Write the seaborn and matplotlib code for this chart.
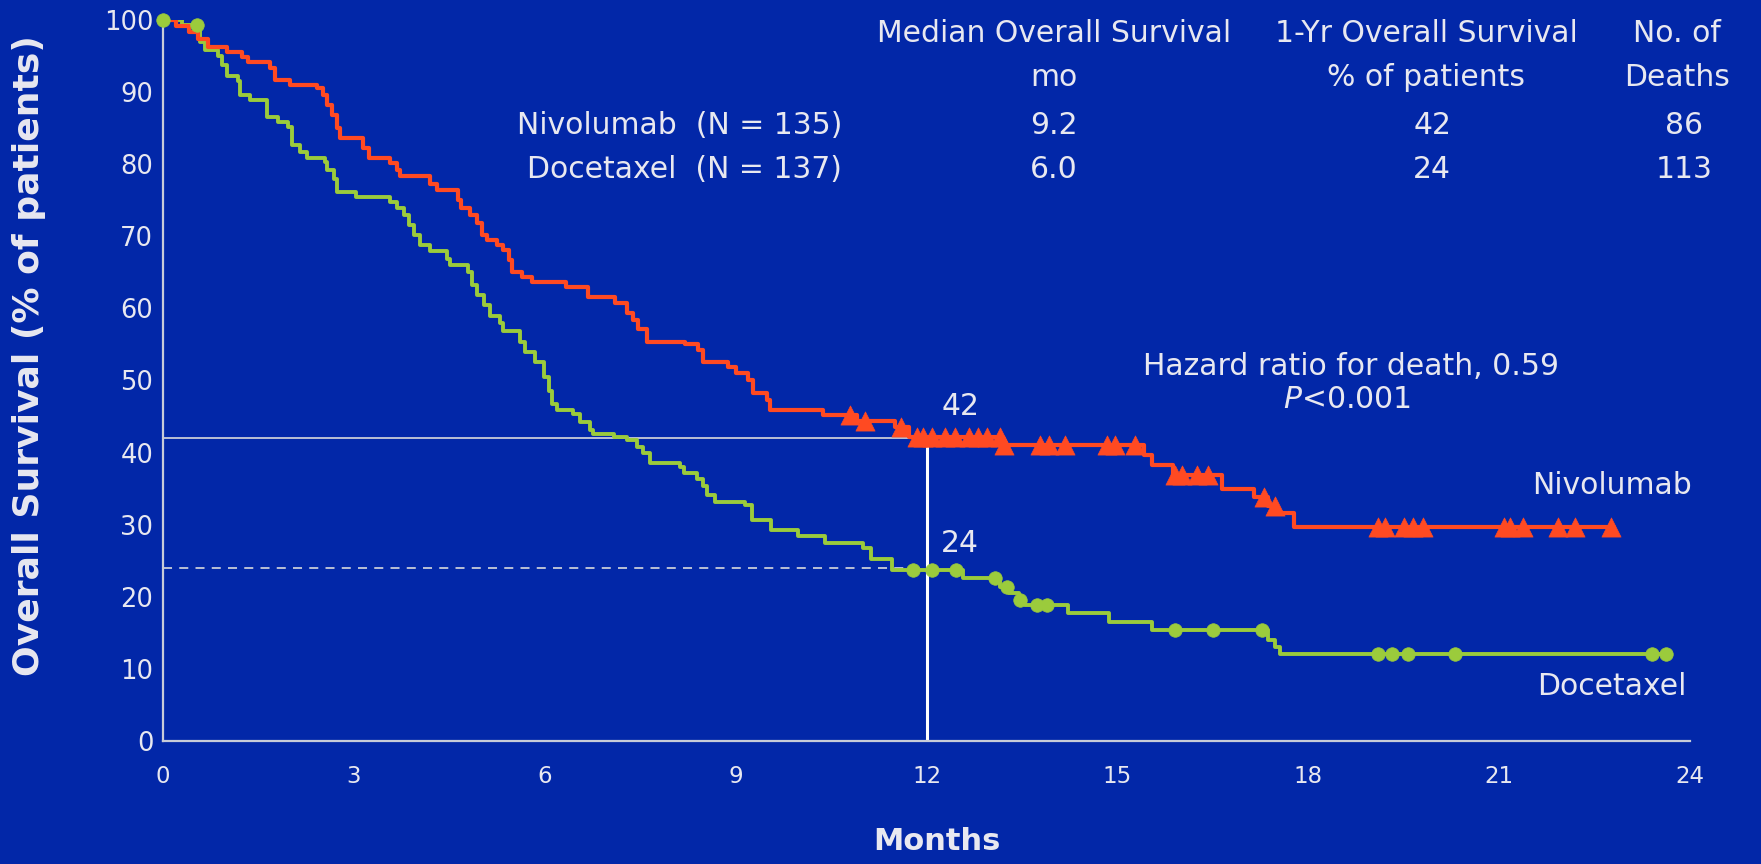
import numpy as np
import pandas as pd
import matplotlib
matplotlib.use("Agg")
import matplotlib.pyplot as plt
import seaborn as sns

# Kaplan-Meier step data: time (months) and survival (%) after each drop
nivo_t = [0.0, 0.2, 0.4, 0.55, 0.7, 1.0, 1.24, 1.34, 1.68, 1.76, 2.0, 2.42, 2.52, 2.57, 2.65,
          2.73, 2.78, 3.15, 3.23, 3.57, 3.67, 3.73, 4.2, 4.3, 4.64, 4.69, 4.83, 4.93, 5.01,
          5.09, 5.25, 5.35, 5.43, 5.48, 5.64, 5.8, 6.34, 6.68, 7.1, 7.29, 7.38, 7.47, 7.6,
          8.2, 8.41, 8.49, 8.88, 9.01, 9.2, 9.28, 9.49, 9.54, 10.38, 10.9, 11.5, 11.72,
          13.18, 15.41, 15.54, 15.88, 16.64, 17.14, 17.37, 17.5, 17.77, 22.8]
nivo_s = [100.0, 99.2, 98.3, 97.4, 96.3, 95.5, 94.9, 94.2, 93.3, 91.7, 91.0, 90.5, 89.6, 88.2,
          86.8, 85.0, 83.6, 82.3, 80.8, 80.1, 79.2, 78.3, 77.3, 76.4, 75.0, 73.9, 72.9, 71.8,
          70.2, 69.5, 68.8, 68.1, 66.7, 65.1, 64.4, 63.6, 63.0, 61.6, 60.7, 59.3, 58.4, 57.2,
          55.4, 55.0, 54.2, 52.6, 51.9, 51.0, 50.1, 48.3, 47.3, 45.9, 45.2, 44.4, 43.6, 42.2,
          41.0, 39.7, 38.3, 36.9, 35.0, 33.8, 32.6, 31.6, 29.7, 29.7]
nivo_cens = [10.8, 11.03, 11.6, 11.85, 11.95, 12.08, 12.29, 12.45, 12.66, 12.81, 12.95, 13.15,
             13.22, 13.78, 13.93, 14.18, 14.83, 14.96, 15.28, 15.9, 16.01, 16.25, 16.43, 17.3,
             17.48, 19.1, 19.2, 19.5, 19.65, 19.81, 21.07, 21.17, 21.38, 21.93, 22.19, 22.76]

doce_t = [0.0, 0.3, 0.58, 0.66, 0.87, 0.92, 1.0, 1.18, 1.21, 1.37, 1.63, 1.81, 1.97, 2.02, 2.15,
          2.26, 2.55, 2.57, 2.68, 2.73, 3.04, 3.57, 3.67, 3.78, 3.86, 3.94, 4.04, 4.2, 4.46,
          4.51, 4.8, 4.85, 4.93, 5.04, 5.14, 5.3, 5.35, 5.61, 5.69, 5.85, 5.98, 6.06, 6.11,
          6.19, 6.45, 6.55, 6.71, 6.76, 7.08, 7.29, 7.45, 7.55, 7.66, 8.13, 8.18, 8.39, 8.49,
          8.55, 8.68, 9.15, 9.25, 9.56, 9.98, 10.4, 11.0, 11.13, 11.45, 12.58, 13.16, 13.3,
          13.45, 13.55, 14.23, 14.86, 15.54, 17.37, 17.48, 17.56, 23.7]
doce_s = [100.0, 99.3, 97.0, 95.8, 95.0, 93.8, 92.2, 91.5, 89.6, 88.9, 86.6, 85.9, 85.2, 82.6,
          81.7, 80.8, 80.3, 79.2, 78.0, 76.2, 75.5, 74.8, 73.9, 72.9, 71.6, 70.2, 68.8, 67.9,
          66.9, 66.0, 65.1, 63.3, 61.9, 60.5, 58.9, 58.0, 56.9, 55.4, 54.0, 52.6, 50.5, 48.6,
          46.8, 45.9, 45.4, 44.2, 43.1, 42.6, 42.2, 41.7, 40.8, 39.9, 38.5, 38.0, 37.1, 36.4,
          35.3, 34.1, 33.2, 32.7, 30.7, 29.3, 28.4, 27.4, 26.7, 25.3, 23.7, 22.6, 21.4, 20.5,
          19.6, 18.9, 17.7, 16.5, 15.4, 14.0, 13.1, 12.0, 12.0]
doce_cens = [0.0, 0.53, 11.79, 12.08, 12.47, 13.08, 13.26, 13.47, 13.73, 13.89, 15.9, 16.5,
             17.27, 19.1, 19.31, 19.57, 20.3, 23.4, 23.63]

# Summary table
arms = ["Nivolumab  (N = 135)", "Docetaxel  (N = 137)"]
median_os = ["9.2", "6.0"]
one_yr_os = ["42", "24"]
deaths = ["86", "113"]
one_yr_nivo = 42
one_yr_doce = 24
landmark = 12
hazard_text = "Hazard ratio for death, 0.59"

x_ticks = list(range(0, 25, 3))
y_ticks = list(range(0, 101, 10))

BG = "#0227A8"
RED = "#FF4A22"
GREEN = "#9BCB3C"
TXT = "#E8E8F0"
AXC = "#C8CCD8"

sns.set_theme(style="white")
plt.rcParams["font.family"] = ["DejaVu Sans"]

fig = plt.figure(figsize=(17.61, 8.64), dpi=100, facecolor=BG)
ax = fig.add_axes([0.0926, 0.1424, 0.8671, 0.8345])
ax.set_facecolor(BG)


def step_value(times, surv, t):
    idx = np.searchsorted(times, t, side="right") - 1
    return np.asarray(surv)[idx]


curves = pd.DataFrame({
    "t": nivo_t + doce_t,
    "s": nivo_s + doce_s,
    "arm": ["Nivolumab"] * len(nivo_t) + ["Docetaxel"] * len(doce_t),
})
cens = pd.DataFrame({
    "t": nivo_cens + doce_cens,
    "s": list(step_value(nivo_t, nivo_s, nivo_cens)) + list(step_value(doce_t, doce_s, doce_cens)),
    "arm": ["Nivolumab"] * len(nivo_cens) + ["Docetaxel"] * len(doce_cens),
})

# reference lines at 12 months
ax.plot([0, landmark], [one_yr_nivo, one_yr_nivo], color=AXC, lw=1.3, zorder=2)
ax.plot([0, landmark], [one_yr_doce, one_yr_doce], color=AXC, lw=1.3,
        ls=(0, (5, 4)), zorder=2)
ax.plot([landmark, landmark], [0, one_yr_nivo], color="white", lw=2.2, zorder=2)

sns.lineplot(data=curves[curves.arm == "Docetaxel"], x="t", y="s", color=GREEN,
             drawstyle="steps-post", estimator=None, lw=2.8, ax=ax, zorder=3)
sns.lineplot(data=curves[curves.arm == "Nivolumab"], x="t", y="s", color=RED,
             drawstyle="steps-post", estimator=None, lw=3.0, ax=ax, zorder=4)
sns.scatterplot(data=cens[cens.arm == "Docetaxel"], x="t", y="s", color=GREEN,
                marker="o", s=95, edgecolor=GREEN, linewidth=0.5, ax=ax, zorder=5,
                clip_on=False)
sns.scatterplot(data=cens[cens.arm == "Nivolumab"], x="t", y="s", color=RED,
                marker="^", s=190, edgecolor=RED, linewidth=0.5, ax=ax, zorder=6,
                clip_on=False)

ax.set_xlim(0, 24)
ax.set_ylim(0, 100)
ax.set_xticks(x_ticks)
ax.set_yticks(y_ticks)
ax.set_xticklabels([str(v) for v in x_ticks], fontsize=16.5, color=TXT)
ax.set_yticklabels([str(v) for v in y_ticks], fontsize=18.5, color=TXT)
ax.tick_params(axis="y", direction="out", length=5, width=1.3, color=AXC, pad=2)
ax.tick_params(axis="x", direction="out", length=7, width=1.3, color=AXC, pad=10)
for side in ["top", "right"]:
    ax.spines[side].set_visible(False)
for side in ["left", "bottom"]:
    ax.spines[side].set_color(AXC)
    ax.spines[side].set_linewidth(1.6)

ax.set_xlabel("Months", fontsize=22, fontweight="bold", color=TXT)
ax.set_ylabel("Overall Survival (% of patients)", fontsize=26, fontweight="bold", color=TXT)
ax.xaxis.set_label_coords(0.507, -0.14)
ax.xaxis.label.set_va("center")
ax.yaxis.set_label_coords(-0.088, 0.534)
ax.yaxis.label.set_va("center")

fs = 21.5
# table header
ax.text(14.0, 98.1, "Median Overall Survival", ha="center", va="center", fontsize=fs, color=TXT)
ax.text(14.0, 92.0, "mo", ha="center", va="center", fontsize=fs, color=TXT)
ax.text(19.85, 98.1, "1-Yr Overall Survival", ha="center", va="center", fontsize=fs, color=TXT)
ax.text(19.85, 92.0, "% of patients", ha="center", va="center", fontsize=fs, color=TXT)
ax.text(23.8, 98.1, "No. of", ha="center", va="center", fontsize=fs, color=TXT)
ax.text(23.8, 92.0, "Deaths", ha="center", va="center", fontsize=fs, color=TXT)
for i, yy in enumerate([85.3, 79.3]):
    ax.text(10.67, yy, arms[i], ha="right", va="center", fontsize=fs, color=TXT)
    ax.text(14.0, yy, median_os[i], ha="center", va="center", fontsize=fs, color=TXT)
    ax.text(19.95, yy, one_yr_os[i], ha="center", va="center", fontsize=fs, color=TXT)
    ax.text(23.9, yy, deaths[i], ha="center", va="center", fontsize=fs, color=TXT)

ax.text(18.67, 51.9, hazard_text, ha="center", va="center", fontsize=fs, color=TXT)
ax.text(18.6, 47.4, r"$\it{P}$<0.001", ha="center", va="center", fontsize=fs, color=TXT)
ax.text(22.77, 35.5, "Nivolumab", ha="center", va="center", fontsize=fs, color=TXT)
ax.text(22.77, 7.6, "Docetaxel", ha="center", va="center", fontsize=fs, color=TXT)
ax.text(12.53, 46.4, str(one_yr_nivo), ha="center", va="center", fontsize=fs, color=TXT)
ax.text(12.53, 27.4, str(one_yr_doce), ha="center", va="center", fontsize=fs, color=TXT)

fig.savefig("out.png", dpi=100, facecolor=BG)
